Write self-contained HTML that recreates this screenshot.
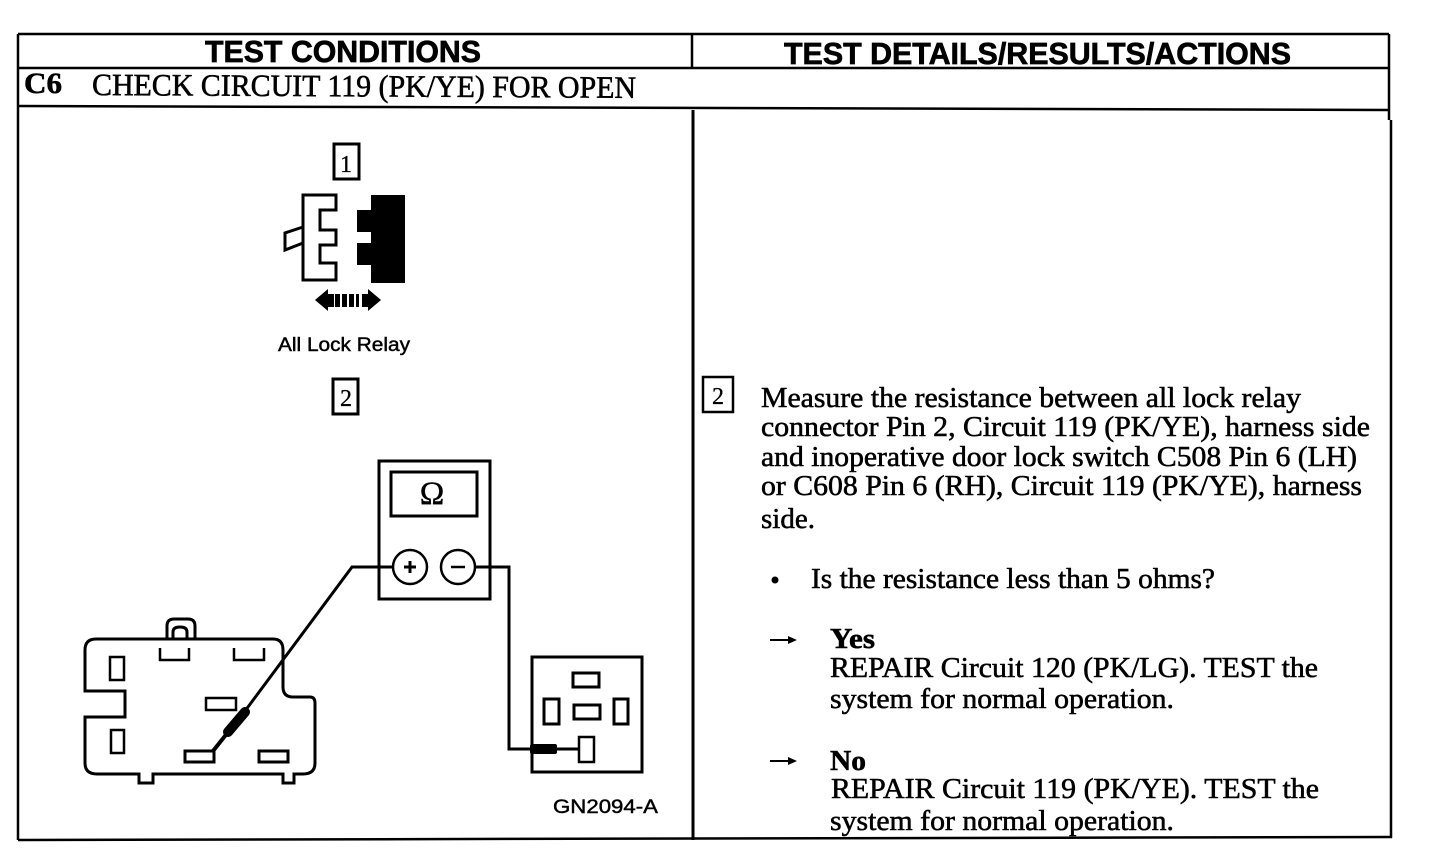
<!DOCTYPE html>
<html lang="en">
<head>
<meta charset="utf-8">
<title>C6 Check Circuit 119</title>
<style>
html,body{margin:0;padding:0;background:#fff;width:1440px;height:860px;overflow:hidden}
svg{display:block}
.s{font-family:"Liberation Serif",serif;font-size:29px;fill:#000;stroke:#000;stroke-width:.55}
.h{font-family:"Liberation Sans",sans-serif;font-size:31px;font-weight:700;fill:#000;stroke:#000;stroke-width:.7}
.n{font-family:"Liberation Serif",serif;font-size:24px;fill:#000;stroke:#000;stroke-width:.3}
.l{fill:none;stroke:#000;stroke-width:3}
.t{fill:none;stroke:#000;stroke-width:2.5}
.a{font-family:"Liberation Sans",sans-serif;font-size:19px;fill:#000;stroke:#000;stroke-width:.45}
</style>
</head>
<body>
<svg width="1440" height="860" viewBox="0 0 1440 860" xmlns="http://www.w3.org/2000/svg">
<rect width="1440" height="860" fill="#fff"/>

<!-- table -->
<g fill="none" stroke="#000" stroke-width="2.5">
<path d="M18 34H1389"/>
<path d="M18 34V840"/>
<path d="M1389 34V120"/>
<path d="M1391 120V838"/>
<path d="M692 34V68"/>
<path d="M18 68H1389"/>
<path d="M18 106L1389 110"/>
<path d="M693 110V840" stroke-width="3"/>
<path d="M18 840L1392 837"/>
</g>

<text class="h" x="205" y="62" textLength="276" lengthAdjust="spacingAndGlyphs">TEST CONDITIONS</text>
<text class="h" x="784" y="64" textLength="507" lengthAdjust="spacingAndGlyphs">TEST DETAILS/RESULTS/ACTIONS</text>
<text class="s" x="24" y="93" textLength="38" lengthAdjust="spacingAndGlyphs" style="font-weight:700;font-size:30px">C6</text>
<text class="s" x="92" y="95" textLength="544" lengthAdjust="spacingAndGlyphs" transform="rotate(.3 92 95)" style="font-size:31px">CHECK CIRCUIT 119 (PK/YE) FOR OPEN</text>

<!-- step 1 -->
<rect x="334" y="144" width="25" height="35" class="l"/>
<text class="n" x="346" y="172" text-anchor="middle">1</text>

<path class="l" d="M303 195H336V210H320V230H336V245H320V263H336V280H303Z"/>
<path class="l" d="M303 227L285 233V250L303 243"/>
<path fill="#000" d="M371 195H405V283H371V265H357V243H371V232H357V210H371Z"/>

<!-- double arrow -->
<path fill="#000" d="M315 300L328 289V311Z"/>
<path fill="#000" d="M381 300L368 289V311Z"/>
<g fill="#000">
<rect x="328" y="294" width="6" height="13"/>
<rect x="335" y="294" width="5" height="13"/>
<rect x="342" y="294" width="5" height="13"/>
<rect x="349" y="294" width="5" height="13"/>
<rect x="356" y="294" width="3" height="13"/>
<rect x="362" y="294" width="6" height="13"/>
</g>

<text class="a" x="278" y="351" textLength="132" lengthAdjust="spacingAndGlyphs">All Lock Relay</text>

<!-- step 2 -->
<rect x="333" y="379" width="25" height="35" class="l"/>
<text class="n" x="346" y="406" text-anchor="middle">2</text>

<!-- meter -->
<rect x="379" y="461" width="111" height="138" class="l"/>
<rect x="391" y="472" width="86" height="44" class="l"/>
<text x="432" y="504" font-family="Liberation Serif, serif" font-size="33" text-anchor="middle" fill="#000" stroke="#000" stroke-width=".4">Ω</text>
<circle cx="410" cy="567" r="17" fill="#fff" class="t"/>
<circle cx="458" cy="567" r="17" fill="#fff" class="t"/>
<path d="M404 567H416M410 561V573" stroke="#000" stroke-width="3" fill="none"/>
<path d="M451 567H465" stroke="#000" stroke-width="2.5" fill="none"/>

<!-- wires -->
<path class="l" d="M393 567H352L245 711"/>
<path class="l" d="M475 567H509V749H532"/>
<path d="M228 732L245 712" stroke="#000" stroke-width="10" fill="none" stroke-linecap="round"/>
<path d="M229 731L213 751" stroke="#000" stroke-width="4" fill="none"/>

<!-- relay connector -->
<path class="l" d="M85 691V650Q85 639 96 639H273Q283 639 283 650V687Q283 697 293 697H310Q315 697 315 703V763Q315 774 303 774H294V783H283V774H153V783H139V774H97Q85 774 85 763V717H125V691Z"/>
<path class="l" d="M167 639V626Q167 619 174 619H188Q195 619 195 626V639"/>
<path class="l" d="M173 639V632Q173 627 180 627Q187 627 187 632V639"/>
<path class="t" d="M160 648V660H189V648"/>
<path class="t" d="M234 648V660H264V648"/>
<rect x="110" y="657" width="14" height="23" class="t"/>
<rect x="111" y="730" width="13" height="23" class="t"/>
<rect x="206" y="698" width="30" height="12" class="t"/>
<rect x="185" y="751" width="29" height="11" class="l"/>
<rect x="259" y="751" width="29" height="11" class="l"/>

<!-- right connector -->
<rect x="532" y="657" width="110" height="115" class="l"/>
<rect x="573" y="673" width="26" height="14" class="l"/>
<rect x="544" y="699" width="15" height="25" class="l"/>
<rect x="574" y="705" width="26" height="14" class="l"/>
<rect x="614" y="699" width="14" height="25" class="l"/>
<rect x="579" y="737" width="15" height="25" class="t"/>
<rect x="530" y="744" width="27" height="10" rx="2" fill="#000"/>
<path d="M555 749H579" stroke="#000" stroke-width="3" fill="none"/>

<text class="a" x="553" y="813" textLength="105" lengthAdjust="spacingAndGlyphs">GN2094-A</text>

<!-- right column -->
<rect x="703" y="377" width="30" height="35" class="t"/>
<text class="n" x="718" y="404" text-anchor="middle">2</text>

<text class="s" x="761" y="407" textLength="540" lengthAdjust="spacingAndGlyphs">Measure the resistance between all lock relay</text>
<text class="s" x="761" y="436" textLength="609" lengthAdjust="spacingAndGlyphs">connector Pin 2, Circuit 119 (PK/YE), harness side</text>
<text class="s" x="761" y="466" textLength="596" lengthAdjust="spacingAndGlyphs">and inoperative door lock switch C508 Pin 6 (LH)</text>
<text class="s" x="761" y="495" textLength="601" lengthAdjust="spacingAndGlyphs">or C608 Pin 6 (RH), Circuit 119 (PK/YE), harness</text>
<text class="s" x="761" y="528">side.</text>

<circle cx="775" cy="580" r="3.5" fill="#000"/>
<text class="s" x="811" y="588" textLength="404" lengthAdjust="spacingAndGlyphs">Is the resistance less than 5 ohms?</text>

<path d="M770 640H793" stroke="#000" stroke-width="2" fill="none"/>
<path d="M788 636L797 640L788 644Z" fill="#000"/>
<text class="s" x="830" y="648" textLength="45" lengthAdjust="spacingAndGlyphs" style="font-weight:700">Yes</text>
<text class="s" x="830" y="677" textLength="488" lengthAdjust="spacingAndGlyphs">REPAIR Circuit 120 (PK/LG). TEST the</text>
<text class="s" x="830" y="708" textLength="344" lengthAdjust="spacingAndGlyphs">system for normal operation.</text>

<path d="M770 761H793" stroke="#000" stroke-width="2" fill="none"/>
<path d="M788 757L797 761L788 765Z" fill="#000"/>
<text class="s" x="830" y="770" textLength="36" lengthAdjust="spacingAndGlyphs" style="font-weight:700">No</text>
<text class="s" x="831" y="798" textLength="488" lengthAdjust="spacingAndGlyphs">REPAIR Circuit 119 (PK/YE). TEST the</text>
<text class="s" x="830" y="830" textLength="344" lengthAdjust="spacingAndGlyphs">system for normal operation.</text>
</svg>
</body>
</html>
